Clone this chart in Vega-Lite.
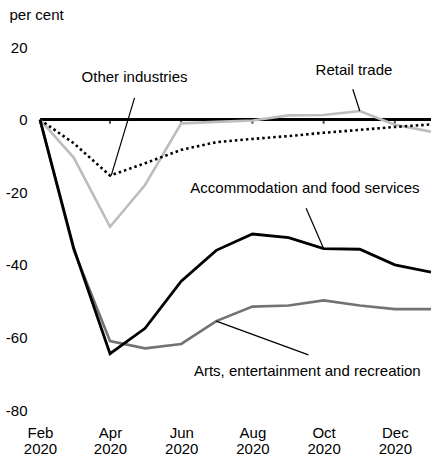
{
  "$schema": "https://vega.github.io/schema/vega-lite/v6.json",
  "width": 391,
  "height": 381,
  "autosize": {"type": "none"},
  "padding": {"left": 40, "top": 29, "right": 0, "bottom": 49},
  "config": {
    "view": {"stroke": null},
    "font": "Liberation Sans",
    "axis": {"grid": false, "domain": false, "ticks": false, "labelFont": "Liberation Sans", "labelFontSize": 15, "labelColor": "#000"}
  },
  "datasets": {
    "series": [
      {"date": "2020-02-01", "series": "acc", "value": 0},
      {"date": "2020-03-01", "series": "acc", "value": -35.5},
      {"date": "2020-04-01", "series": "acc", "value": -64.5},
      {"date": "2020-05-01", "series": "acc", "value": -57.5},
      {"date": "2020-06-01", "series": "acc", "value": -44.5},
      {"date": "2020-07-01", "series": "acc", "value": -36},
      {"date": "2020-08-01", "series": "acc", "value": -31.5},
      {"date": "2020-09-01", "series": "acc", "value": -32.5},
      {"date": "2020-10-01", "series": "acc", "value": -35.5},
      {"date": "2020-11-01", "series": "acc", "value": -35.7},
      {"date": "2020-12-01", "series": "acc", "value": -40},
      {"date": "2021-01-01", "series": "acc", "value": -42},
      {"date": "2020-02-01", "series": "arts", "value": 0},
      {"date": "2020-03-01", "series": "arts", "value": -36},
      {"date": "2020-04-01", "series": "arts", "value": -61},
      {"date": "2020-05-01", "series": "arts", "value": -63},
      {"date": "2020-06-01", "series": "arts", "value": -61.8},
      {"date": "2020-07-01", "series": "arts", "value": -55.5},
      {"date": "2020-08-01", "series": "arts", "value": -51.5},
      {"date": "2020-09-01", "series": "arts", "value": -51.2},
      {"date": "2020-10-01", "series": "arts", "value": -49.8},
      {"date": "2020-11-01", "series": "arts", "value": -51.2},
      {"date": "2020-12-01", "series": "arts", "value": -52.2},
      {"date": "2021-01-01", "series": "arts", "value": -52.2},
      {"date": "2020-02-01", "series": "retail", "value": 0},
      {"date": "2020-03-01", "series": "retail", "value": -10.5},
      {"date": "2020-04-01", "series": "retail", "value": -29.5},
      {"date": "2020-05-01", "series": "retail", "value": -18},
      {"date": "2020-06-01", "series": "retail", "value": -1},
      {"date": "2020-07-01", "series": "retail", "value": -0.6},
      {"date": "2020-08-01", "series": "retail", "value": -0.2},
      {"date": "2020-09-01", "series": "retail", "value": 1.2},
      {"date": "2020-10-01", "series": "retail", "value": 1.3},
      {"date": "2020-11-01", "series": "retail", "value": 2.4},
      {"date": "2020-12-01", "series": "retail", "value": -1.4},
      {"date": "2021-01-01", "series": "retail", "value": -3.3},
      {"date": "2020-02-01", "series": "other", "value": 0},
      {"date": "2020-03-01", "series": "other", "value": -6.5},
      {"date": "2020-04-01", "series": "other", "value": -15.4},
      {"date": "2020-05-01", "series": "other", "value": -12},
      {"date": "2020-06-01", "series": "other", "value": -8.3},
      {"date": "2020-07-01", "series": "other", "value": -6.2},
      {"date": "2020-08-01", "series": "other", "value": -5.3},
      {"date": "2020-09-01", "series": "other", "value": -4.5},
      {"date": "2020-10-01", "series": "other", "value": -3.6},
      {"date": "2020-11-01", "series": "other", "value": -2.8},
      {"date": "2020-12-01", "series": "other", "value": -2},
      {"date": "2021-01-01", "series": "other", "value": -1.3}
    ],
    "ticks": [
      {"date": "2020-02-01", "value": 0},
      {"date": "2020-04-01", "value": 0},
      {"date": "2020-06-01", "value": 0},
      {"date": "2020-08-01", "value": 0},
      {"date": "2020-10-01", "value": 0},
      {"date": "2020-12-01", "value": 0}
    ],
    "labels": [
      {"date": "2020-04-22", "value": 11.9, "text": "Other industries"},
      {"date": "2020-10-27", "value": 13.7, "text": "Retail trade"},
      {"date": "2020-09-15", "value": -18.8, "text": "Accommodation and food services"},
      {"date": "2020-09-17", "value": -69.2, "text": "Arts, entertainment and recreation"}
    ],
    "leaders": [
      {"date": "2020-04-22", "value": 6.0, "date2": "2020-04-02", "value2": -15.4},
      {"date": "2020-10-26", "value": 8.4, "date2": "2020-11-01", "value2": 2.4},
      {"date": "2020-09-16", "value": -24.4, "date2": "2020-10-01", "value2": -35.5},
      {"date": "2020-07-01", "value": -55.5, "date2": "2020-09-18", "value2": -64.8}
    ]
  },
  "layer": [
    {
      "data": {"name": "ticks"},
      "mark": {"type": "rule", "color": "#000", "strokeWidth": 2.5},
      "encoding": {
        "y": {
          "datum": 0,
          "type": "quantitative",
          "scale": {"domain": [-80, 25], "nice": false},
          "axis": {
            "values": [20, 0, -20, -40, -60, -80],
            "labelExpr": "'' + datum.value",
            "labelPadding": 13,
            "title": "per cent",
            "titleAngle": 0,
            "titleAlign": "left",
            "titleBaseline": "alphabetic",
            "titleX": -31,
            "titleY": -10,
            "titleFont": "Liberation Sans",
            "titleFontSize": 15,
            "titleFontWeight": "normal",
            "titleColor": "#000"
          }
        }
      }
    },
    {
      "data": {"name": "ticks"},
      "mark": {"type": "tick", "orient": "vertical", "color": "#000", "size": 4, "thickness": 2, "yOffset": 2},
      "encoding": {
        "x": {
          "field": "date",
          "type": "temporal",
          "scale": {"type": "utc", "domain": [{"year": 2020, "month": 2, "date": 1, "utc": true}, {"year": 2021, "month": 1, "date": 1, "utc": true}]},
          "axis": {
            "values": [
              {"year": 2020, "month": 2, "date": 1, "utc": true},
              {"year": 2020, "month": 4, "date": 1, "utc": true},
              {"year": 2020, "month": 6, "date": 1, "utc": true},
              {"year": 2020, "month": 8, "date": 1, "utc": true},
              {"year": 2020, "month": 10, "date": 1, "utc": true},
              {"year": 2020, "month": 12, "date": 1, "utc": true}
            ],
            "labelExpr": "[utcFormat(datum.value, '%b'), utcFormat(datum.value, '%Y')]",
            "labelFlush": false,
            "labelOverlap": false,
            "labelPadding": 15,
            "labelLineHeight": 16,
            "title": null
          }
        },
        "y": {"field": "value", "type": "quantitative"}
      }
    },
    {
      "data": {"name": "series"},
      "transform": [{"filter": "datum.series == 'retail'"}],
      "mark": {"type": "line", "color": "#bdbdbd", "strokeWidth": 2.6},
      "encoding": {"x": {"field": "date", "type": "temporal"}, "y": {"field": "value", "type": "quantitative"}}
    },
    {
      "data": {"name": "series"},
      "transform": [{"filter": "datum.series == 'other'"}],
      "mark": {"type": "line", "color": "#000", "strokeWidth": 2.6, "strokeDash": [2.5, 3]},
      "encoding": {"x": {"field": "date", "type": "temporal"}, "y": {"field": "value", "type": "quantitative"}}
    },
    {
      "data": {"name": "series"},
      "transform": [{"filter": "datum.series == 'arts'"}],
      "mark": {"type": "line", "color": "#737373", "strokeWidth": 2.6},
      "encoding": {"x": {"field": "date", "type": "temporal"}, "y": {"field": "value", "type": "quantitative"}}
    },
    {
      "data": {"name": "series"},
      "transform": [{"filter": "datum.series == 'acc'"}],
      "mark": {"type": "line", "color": "#000", "strokeWidth": 2.8},
      "encoding": {"x": {"field": "date", "type": "temporal"}, "y": {"field": "value", "type": "quantitative"}}
    },
    {
      "data": {"name": "leaders"},
      "mark": {"type": "rule", "color": "#000", "strokeWidth": 1.2},
      "encoding": {
        "x": {"field": "date", "type": "temporal"},
        "x2": {"field": "date2"},
        "y": {"field": "value", "type": "quantitative"},
        "y2": {"field": "value2"}
      }
    },
    {
      "data": {"name": "labels"},
      "mark": {"type": "text", "font": "Liberation Sans", "fontSize": 15, "align": "center", "baseline": "middle", "color": "#000"},
      "encoding": {
        "x": {"field": "date", "type": "temporal"},
        "y": {"field": "value", "type": "quantitative"},
        "text": {"field": "text"}
      }
    }
  ]
}
